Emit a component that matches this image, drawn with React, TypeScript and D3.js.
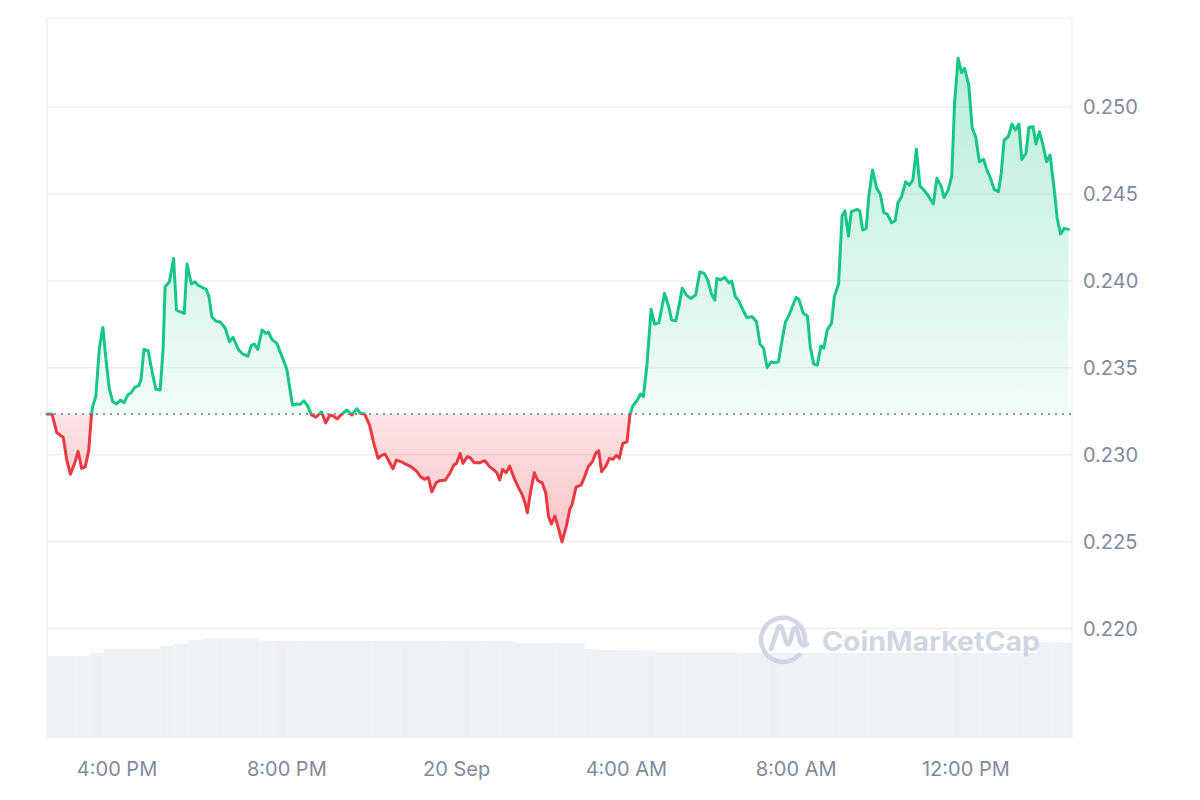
import React from "react";
import * as d3 from "d3";

// ---- data ----
const startTime = new Date(2023, 8, 19, 14, 21);
const spanMinutes = 1449;

const minutesFromStart: number[] = [
  0, 7, 14, 23, 28, 33, 39, 44, 49, 54, 59, 63, 65, 69, 74, 79, 83, 88, 93, 98,
  104, 109, 114, 119, 124, 130, 133, 137, 143, 149, 154, 160, 164, 167, 173, 179, 183, 189, 194, 198,
  204, 209, 213, 219, 225, 229, 233, 239, 245, 252, 258, 263, 271, 277, 284, 289,
  293, 298, 304, 309, 313, 318, 325, 332, 339, 347, 353, 358, 363, 368, 374, 380, 388, 394, 400, 405,
  410, 417, 424, 431, 438, 443, 449, 456, 462, 468, 473, 478, 483, 489, 494, 501, 507, 515, 523, 528,
  534, 539, 544, 550, 555, 563, 570, 575, 579, 584,
  588, 594, 598, 604, 611, 619, 626, 632, 636, 640, 644, 649, 654, 660, 666, 672, 676, 679, 684, 689,
  694, 700, 705, 709, 713, 718, 723, 728, 734, 739, 742, 748, 755, 760, 765, 771, 776, 780, 784, 790,
  795, 800, 805, 809, 814, 820, 824, 828, 834, 839, 843, 848, 854, 859, 865, 873,
  879, 883, 889, 894, 898, 904, 910, 917, 923, 929, 934, 940, 944, 947, 952, 958, 964, 968, 973, 978,
  984, 989, 997, 1003, 1008, 1013, 1018, 1024, 1029, 1034, 1040, 1044, 1048, 1054, 1059, 1063, 1069, 1075, 1079, 1084,
  1089, 1094, 1098, 1103, 1109, 1113, 1119, 1124, 1128, 1133, 1137, 1145, 1149, 1153, 1158,
  1162, 1167, 1173, 1178, 1183, 1188, 1194, 1199, 1203, 1208, 1214, 1219, 1224, 1229, 1234, 1239, 1246, 1253, 1258, 1264,
  1268, 1274, 1279, 1283, 1288, 1293, 1297, 1303, 1308, 1313, 1318, 1324, 1329, 1333, 1339, 1345, 1349, 1353, 1359, 1364,
  1369, 1374, 1378, 1384, 1388, 1394, 1398, 1403, 1408, 1413, 1418, 1424, 1428, 1433, 1438, 1444,
];

const prices: number[] = [
  0.23234, 0.23234, 0.23126, 0.23099, 0.22969, 0.22888, 0.2295, 0.23019, 0.22921, 0.2293,
  0.23026, 0.23238, 0.23285, 0.23333, 0.23612, 0.23732, 0.23563, 0.23381, 0.23304, 0.23291,
  0.23314, 0.23299, 0.23343, 0.23356, 0.23387, 0.23399, 0.23433, 0.23606, 0.23598, 0.23468,
  0.23376, 0.23372, 0.23602, 0.23966, 0.23995, 0.24129, 0.23832, 0.23822, 0.23813, 0.24097,
  0.23982, 0.23995, 0.23976, 0.23963, 0.23951, 0.23909, 0.23793, 0.23767, 0.23763, 0.23727,
  0.2365, 0.23675, 0.23602, 0.23579, 0.23567, 0.23629,
  0.23636, 0.23606, 0.23717, 0.23698, 0.23705, 0.23663, 0.2364, 0.23567, 0.23491, 0.23285,
  0.23291, 0.2329, 0.2331, 0.23285, 0.23228, 0.23215, 0.23247, 0.23183, 0.23228, 0.23222,
  0.23206, 0.23234, 0.23257, 0.23228, 0.23264, 0.23238, 0.23234, 0.2317, 0.23065, 0.22979,
  0.22996, 0.23003, 0.22965, 0.22919, 0.22969, 0.22959, 0.22946, 0.2293, 0.22902, 0.22873,
  0.22858, 0.22869, 0.22786, 0.22838, 0.2285, 0.22854, 0.22896, 0.2294, 0.2295, 0.23007,
  0.2295, 0.22988, 0.22984, 0.22953, 0.22953, 0.22965, 0.2293, 0.22911, 0.22896, 0.22854,
  0.22915, 0.22896, 0.22934, 0.22869, 0.22815, 0.22767, 0.2272, 0.22666, 0.22796, 0.22896,
  0.2285, 0.22838, 0.22781, 0.22643, 0.22601, 0.22647, 0.22576, 0.22499, 0.22585, 0.22685,
  0.2271, 0.22815, 0.22825, 0.22873, 0.2293, 0.22959, 0.23011, 0.23022, 0.22902, 0.22934,
  0.22979, 0.22973, 0.22996, 0.22979, 0.23065, 0.23074, 0.23228, 0.2328, 0.2331, 0.23349,
  0.23333, 0.2351, 0.23836, 0.23751, 0.23759, 0.23928,
  0.23851, 0.23774, 0.2377, 0.2387, 0.23957, 0.23918, 0.23899, 0.23918, 0.24052, 0.24043,
  0.24005, 0.23918, 0.23889, 0.24014, 0.24005, 0.2402, 0.23989, 0.23999, 0.23909, 0.23885,
  0.23832, 0.2379, 0.23793, 0.23765, 0.23636, 0.23612, 0.23502, 0.23534, 0.23529, 0.23534,
  0.23678, 0.23765, 0.23793, 0.23855, 0.23905, 0.23893, 0.23813, 0.23797, 0.23621, 0.23521,
  0.23515, 0.23625, 0.23612, 0.23717, 0.23755, 0.23909, 0.23982, 0.24373, 0.24403, 0.24258,
  0.24398, 0.24411, 0.24403, 0.24292, 0.24302,
  0.24494, 0.24638, 0.24532, 0.24499, 0.24392, 0.24384, 0.24334, 0.24346, 0.24449, 0.24484,
  0.2457, 0.24551, 0.2458, 0.24757, 0.24545, 0.24526, 0.24488, 0.24442, 0.2459, 0.24545,
  0.2448, 0.24522, 0.24603, 0.25021, 0.2528, 0.25197, 0.25223, 0.25127, 0.24877, 0.24826,
  0.24685, 0.24699, 0.24634, 0.24599, 0.24526, 0.24513, 0.24619, 0.2481, 0.24829, 0.24902,
  0.24868, 0.24902, 0.24699, 0.24734, 0.24883, 0.24887, 0.24787, 0.24858, 0.24781, 0.24685,
  0.24724, 0.24522, 0.2436, 0.24269, 0.24302, 0.24296,
];

// 24h volume (millions), one value per 20-minute bar
const volumeBinMinutes = 20;
const volumes: number[] = [
  8.2, 8.2, 8.2, 8.5, 8.9, 8.9, 8.9, 8.9, 9.2, 9.45,
  9.8, 9.95, 9.95, 9.95, 9.95, 9.7, 9.7, 9.7, 9.7, 9.7,
  9.7, 9.7, 9.7, 9.7, 9.7, 9.7, 9.7, 9.7, 9.7, 9.7,
  9.7, 9.7, 9.7, 9.5, 9.5, 9.5, 9.5, 9.5, 8.9, 8.8,
  8.75, 8.75, 8.75, 8.55, 8.55, 8.55, 8.55, 8.55, 8.55, 8.5,
  8.5, 8.5, 8.5, 8.5, 8.5, 8.5, 8.5, 8.5, 8.5, 8.5,
  8.5, 8.5, 8.5, 8.5, 8.5, 8.5, 8.5, 8.5, 8.5, 8.5,
  9.55, 9.55, 9.55,
];

const yTicks: number[] = [0.22, 0.225, 0.23, 0.235, 0.24, 0.245, 0.25];

const GREEN = "#16c784";
const RED = "#ea3943";
const FONT = "Inter, 'Noto Sans', sans-serif";

export default function App() {
  const left = 47;
  const right = 1072;
  const top = 18;
  const bottom = 738;

  const t0 = startTime.getTime();
  const toDate = (m: number) => new Date(t0 + m * 60000);

  const x = d3.scaleTime().domain([startTime, toDate(spanMinutes)]).range([left, right]);
  const y = d3.scaleLinear().domain([0.22, 0.25]).range([628.5, 107]);
  const yv = d3.scaleLinear().domain([0, 12]).range([bottom, bottom - 120]);

  const data = minutesFromStart.map((m, i) => ({ t: toDate(m), p: prices[i] }));
  const basePrice = prices[0];
  const baseY = y(basePrice);

  const line = d3
    .line<{ t: Date; p: number }>()
    .x((d) => x(d.t))
    .y((d) => y(d.p));
  const area = d3
    .area<{ t: Date; p: number }>()
    .x((d) => x(d.t))
    .y0(baseY)
    .y1((d) => y(d.p));

  const linePath = line(data) || "";
  const areaPath = area(data) || "";

  const xTicks = d3.timeHour.every(4)!.range(toDate(1), toDate(spanMinutes));
  const fmtTick = (d: Date) =>
    d.getHours() === 0 ? d3.timeFormat("%-d %b")(d) : d3.timeFormat("%-I:%M %p")(d);

  const maxP = d3.max(prices)!;
  const minP = d3.min(prices)!;

  return (
    <svg
      width={1200}
      height={800}
      style={{ position: "absolute", left: 0, top: 0, background: "#fff" }}
      fontFamily={FONT}
    >
      <defs>
        <clipPath id="plotClip">
          <rect x={left} y={top} width={right - left} height={bottom - top} />
        </clipPath>
        <clipPath id="aboveClip">
          <rect x={0} y={0} width={1200} height={baseY} />
        </clipPath>
        <clipPath id="belowClip">
          <rect x={0} y={baseY} width={1200} height={800 - baseY} />
        </clipPath>
        <linearGradient id="greenGrad" gradientUnits="userSpaceOnUse" x1={0} x2={0} y1={y(maxP)} y2={baseY}>
          <stop offset="0" stopColor={GREEN} stopOpacity={0.3} />
          <stop offset="1" stopColor={GREEN} stopOpacity={0.06} />
        </linearGradient>
        <linearGradient id="redGrad" gradientUnits="userSpaceOnUse" x1={0} x2={0} y1={baseY} y2={y(minP)}>
          <stop offset="0" stopColor={RED} stopOpacity={0.14} />
          <stop offset="1" stopColor={RED} stopOpacity={0.3} />
        </linearGradient>
      </defs>

      {/* grid */}
      {yTicks.map((v) => (
        <line key={v} x1={left} x2={right} y1={y(v)} y2={y(v)} stroke="#eff0f2" strokeWidth={1.5} />
      ))}

      {/* frame */}
      <line x1={left} x2={right} y1={top} y2={top} stroke="#f1f2f4" strokeWidth={1} />
      <line x1={left} x2={left} y1={top} y2={bottom} stroke="#eff0f2" strokeWidth={1.5} />
      <line x1={right} x2={right} y1={top} y2={bottom} stroke="#eff0f2" strokeWidth={1.5} />

      {/* volume */}
      <g clipPath="url(#plotClip)">
        {volumes.map((v, i) => {
          const x0 = x(toDate(i * volumeBinMinutes));
          const x1 = x(toDate((i + 1) * volumeBinMinutes));
          return (
            <rect key={i} x={x0} y={yv(v)} width={x1 - x0} height={bottom - yv(v)} fill="#eef1f5" />
          );
        })}
      </g>

      {/* watermark */}
      <g opacity={0.9}>
        <path
          d="M 799 655 A 22 22 0 1 1 805 641"
          fill="none"
          stroke="#ccd3e0"
          strokeWidth={4.5}
          strokeLinecap="round"
        />
        <path
          d="M 771 649 L 778 628 Q 780 624 782 628 L 786 642 Q 788 647 790 642 L 793 630 Q 795 626 797 630 L 800 641 Q 802 648 807 644"
          fill="none"
          stroke="#ccd3e0"
          strokeWidth={4.5}
          strokeLinecap="round"
          strokeLinejoin="round"
        />
        <text
          x={822}
          y={651}
          fontSize={27}
          fontWeight={700}
          fill="#ccd3e0"
          textLength={218}
          lengthAdjust="spacingAndGlyphs"
        >
          CoinMarketCap
        </text>
      </g>

      {/* areas */}
      <path d={areaPath} fill="url(#greenGrad)" clipPath="url(#aboveClip)" />
      <path d={areaPath} fill="url(#redGrad)" clipPath="url(#belowClip)" />

      {/* baseline */}
      <line
        x1={left}
        x2={right}
        y1={baseY}
        y2={baseY}
        stroke="#8e95a5"
        strokeWidth={2}
        strokeDasharray="2 5"
      />

      {/* price line */}
      <path
        d={linePath}
        fill="none"
        stroke={GREEN}
        strokeWidth={3}
        strokeLinejoin="round"
        strokeLinecap="round"
        clipPath="url(#aboveClip)"
      />
      <path
        d={linePath}
        fill="none"
        stroke={RED}
        strokeWidth={3}
        strokeLinejoin="round"
        strokeLinecap="round"
        clipPath="url(#belowClip)"
      />

      {/* y axis labels */}
      {yTicks.map((v) => (
        <text key={v} x={1083} y={y(v)} dy="0.35em" fontSize={20} fill="#808a9d">
          {v.toFixed(3)}
        </text>
      ))}

      {/* x axis labels */}
      {xTicks.map((d) => (
        <text key={d.getTime()} x={x(d)} y={776} textAnchor="middle" fontSize={20} fill="#808a9d">
          {fmtTick(d)}
        </text>
      ))}
    </svg>
  );
}
